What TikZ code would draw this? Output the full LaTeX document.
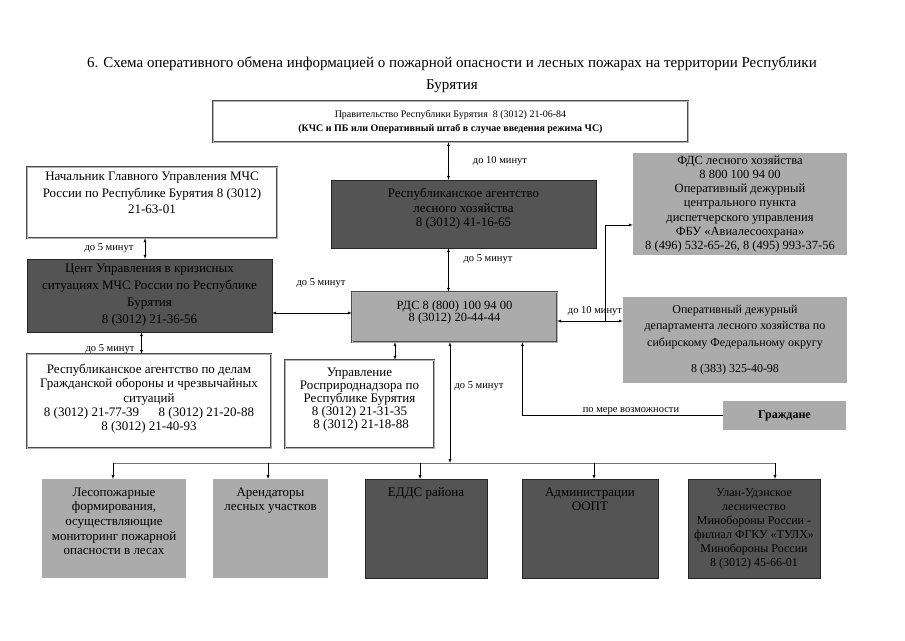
\documentclass[tikz,border=0pt]{standalone}
\usepackage{fontspec}
\setmainfont{Liberation Serif}
\newcommand{\topstack}[1]{\begin{tabular}[t]{@{}c@{}}#1\end{tabular}}
\begin{document}
\begin{tikzpicture}[
x=1pt, y=-1pt, >=latex,
whitebox/.style={rectangle, draw=black!70, double=black!30, double distance=0.8pt, fill=white, align=center, inner sep=2pt},
darkfill/.style={rectangle, draw=black!85, fill=black!67, text=black},
greyfill/.style={rectangle, fill=black!33},
darkbox/.style={darkfill, align=center, inner sep=2pt},
greybox/.style={greyfill, align=center, inner sep=2pt},
bottombox/.style={anchor=north, inner sep=3pt, text height=14pt, text depth=79pt, font=\fontsize{13}{14.6}\selectfont},
timenote/.style={font=\fontsize{10.5}{12}\selectfont, inner sep=0pt},
]
\useasboundingbox (0,0) rectangle (905,640);

%Nodes
\node[align=center, font=\fontsize{15}{22}\selectfont] (title) at (452,75) {6. Схема оперативного обмена информацией о пожарной опасности и лесных пожарах на территории Республики\\Бурятия};
\node[whitebox, minimum width=475pt, minimum height=41pt, font=\fontsize{10}{14}\selectfont] (gov) at (450.5,121.5) {Правительство Республики Бурятия~~8 (3012) 21-06-84\\\textbf{(КЧС и ПБ или Оперативный штаб в случае введения режима ЧС)}};
\node[darkbox, minimum width=265pt, minimum height=68pt, text depth=13pt, font=\fontsize{13}{14.5}\selectfont] (rafh) at (463.5,214) {Республиканское агентство\\лесного хозяйства\\8 (3012) 41-16-65};
\node[whitebox, minimum width=250pt, minimum height=71pt, text depth=19pt, font=\fontsize{13}{16.5}\selectfont] (chief) at (152,202.5) {Начальник Главного Управления МЧС\\России по Республике Бурятия 8 (3012)\\21-63-01};
\node[darkbox, minimum width=245pt, minimum height=73pt, font=\fontsize{13}{17}\selectfont] (cuks) at (149.5,295.5) {Цент Управления в кризисных\\ситуациях МЧС России по Республике\\Бурятия\\8 (3012) 21-36-56};
\node[whitebox, minimum width=244pt, minimum height=94pt, text depth=7pt, font=\fontsize{13}{14.4}\selectfont] (ragochs) at (149,401) {Республиканское агентство по делам\\Гражданской обороны и чрезвычайных\\ситуаций\\8 (3012) 21-77-39\hspace{1.5em}8 (3012) 21-20-88\\8 (3012) 21-40-93};
\node[greybox, draw=black!70, double=black!30, double distance=0.8pt, minimum width=205pt, minimum height=50pt, text depth=12pt, font=\fontsize{12.5}{11.5}\selectfont] (rds) at (454.5,317) {РДС 8 (800) 100 94 00\\8 (3012) 20-44-44};
\node[whitebox, minimum width=149pt, minimum height=88pt, text depth=11pt, font=\fontsize{13}{13}\selectfont] (rpn) at (359.5,404) {Управление\\Росприроднадзора по\\Республике Бурятия\\8 (3012) 21-31-35\\~8 (3012) 21-18-88};
\node[greybox, minimum width=214pt, minimum height=102pt, font=\fontsize{12.5}{14.2}\selectfont] (fds) at (740,204) {ФДС лесного хозяйства\\8 800 100 94 00\\Оперативный дежурный\\центрального пункта\\диспетчерского управления\\ФБУ «Авиалесоохрана»\\8 (496) 532-65-26, 8 (495) 993-37-56};
\node[greybox, minimum width=224pt, minimum height=86pt, font=\fontsize{12}{16.5}\selectfont] (odd) at (735,340) {Оперативный дежурный\\департамента лесного хозяйства по\\сибирскому Федеральному округу\\[10pt]8 (383) 325-40-98};
\node[greybox, minimum width=123pt, minimum height=29pt, font=\fontsize{12}{13}\selectfont\bfseries] (citizens) at (784.5,415.5) {Граждане};

\node[greyfill, bottombox, minimum width=144pt] (forest) at (114,479) {\topstack{Лесопожарные\\формирования,\\осуществляющие\\мониторинг пожарной\\опасности в лесах}};
\node[greyfill, bottombox, minimum width=115pt] (tenants) at (270.5,479) {\topstack{Арендаторы\\лесных участков}};
\node[darkfill, bottombox, minimum width=122pt] (edds) at (426,479) {\topstack{ЕДДС района}};
\node[darkfill, bottombox, minimum width=136pt] (oopt) at (590,479) {\topstack{Администрации\\ООПТ}};
\node[darkfill, bottombox, minimum width=132pt, font=\fontsize{12}{14}\selectfont] (mil) at (754,479) {\topstack{Улан-Удэнское\\лесничество\\Минобороны России -\\филиал ФГКУ «ТУЛХ»\\Минобороны России\\8 (3012) 45-66-01}};

%Labels
\node[timenote] (t_gov) at (500,161) {до 10 минут};
\node[timenote] (t_rafh) at (488,259) {до 5 минут};
\node[timenote] (t_chief) at (109,248) {до 5 минут};
\node[timenote] (t_cuks) at (321,283) {до 5 минут};
\node[timenote] (t_ragochs) at (110,349) {до 5 минут};
\node[timenote] (t_bus) at (479,386) {до 5 минут};
\node[timenote] (t_odd) at (595,311) {до 10 минут};
\node[timenote] (t_citizens) at (631,411) {по мере возможности};

%Lines
\coordinate (fork) at (605,321);
\coordinate (bus) at (450,463);
\draw[<->] ([xshift=-2pt]gov.south) -- ([xshift=-2pt]gov.south |- rafh.north);
\draw[<->] ([xshift=-2pt]gov.south |- rafh.south) -- ([xshift=-2pt]gov.south |- rds.north);
\draw[<->] ([xshift=-7pt]chief.south) -- ([xshift=-7pt]chief.south |- cuks.north);
\draw[<->] ([xshift=-8pt]cuks.south) -- ([xshift=-8pt]cuks.south |- ragochs.north);
\draw[<->] ([yshift=4pt]rds.west) -- ([yshift=4pt]rds.west -| cuks.east);
\draw[<->] ([xshift=35.5pt]rpn.north) -- ([xshift=35.5pt]rpn.north |- rds.south);
\draw[<->] ([yshift=-4pt]rds.east) -- ([yshift=-4pt]rds.east -| odd.west);
\draw[->] (fork) |- ([yshift=-21pt]fds.west);
\draw[->] (citizens.west) -| ([xshift=68pt]rds.south);
\draw[<->] (bus |- rds.south) -- (bus);
\draw[black!55, thick] ([xshift=-1pt]forest.north |- bus) -- ([xshift=22pt]mil.north |- bus);
\foreach \unit/\shift in {forest/-1, tenants/-2.5, edds/-6, oopt/4, mil/21}
	\draw[->] ([xshift=\shift pt]\unit.north |- bus) -- ([xshift=\shift pt]\unit.north);

\end{tikzpicture}
\end{document}
